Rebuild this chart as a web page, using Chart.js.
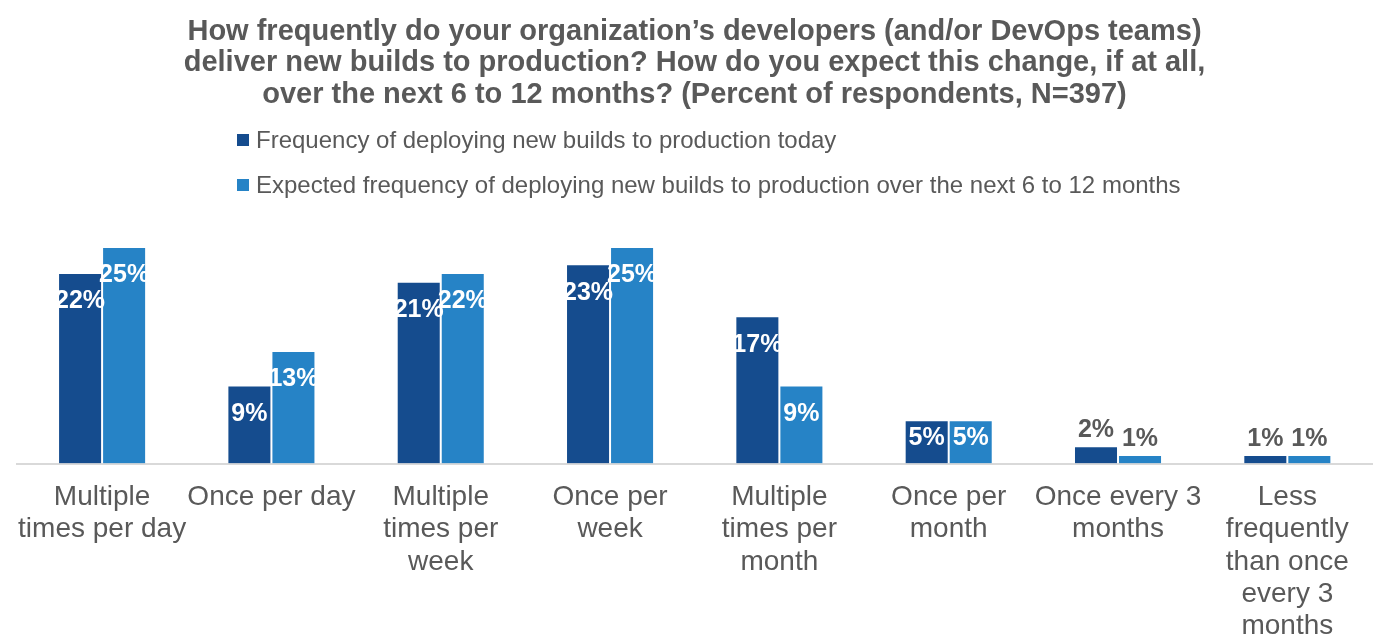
<!DOCTYPE html>
<html>
<head>
<meta charset="utf-8">
<script src="https://cdn.jsdelivr.net/npm/chart.js@4.4.0/dist/chart.umd.min.js"></script>
<style>
  html, body { margin: 0; padding: 0; background: #ffffff; }
  #wrap { width: 1377px; height: 642px; position: relative; }
</style>
</head>
<body>
<div id="wrap"><canvas id="c" width="1377" height="642"></canvas></div>
<script>
const titleLines = [
  "How frequently do your organization\u2019s developers (and/or DevOps teams)",
  "deliver new builds to production? How do you expect this change, if at all,",
  "over the next 6 to 12 months? (Percent of respondents, N=397)"
];
const categories = [
  ["Multiple", "times per day"],
  ["Once per day"],
  ["Multiple", "times per", "week"],
  ["Once per", "week"],
  ["Multiple", "times per", "month"],
  ["Once per", "month"],
  ["Once every 3", "months"],
  ["Less", "frequently", "than once", "every 3", "months"]
];
const seriesNames = [
  "Frequency of deploying new builds to production today",
  "Expected frequency of deploying new builds to production over the next 6 to 12 months"
];
const todayValues = [22, 9, 21, 23, 17, 5, 2, 1];
const expectedValues = [25, 13, 22, 25, 9, 5, 1, 1];
const colors = ["#154C8E", "#2683C6"];

const FONT = "'Liberation Sans', Arial, sans-serif";
const GRAY = "#595959";

const legendPlugin = {
  id: 'customLegend',
  afterDraw(chart) {
    const ctx = chart.ctx;
    ctx.save();
    ctx.font = "24px " + FONT;
    ctx.textBaseline = 'middle';
    ctx.textAlign = 'left';
    const ys = [140, 185];
    chart.data.datasets.forEach((ds, i) => {
      ctx.fillStyle = ds.backgroundColor;
      ctx.fillRect(237, ys[i] - 6, 12, 12);
      ctx.fillStyle = GRAY;
      ctx.fillText(ds.label, 256, ys[i] + 1);
    });
    ctx.restore();
  }
};

const labelPlugin = {
  id: 'barLabels',
  afterDatasetsDraw(chart) {
    const ctx = chart.ctx;
    ctx.save();
    ctx.font = "bold 25px " + FONT;
    ctx.textAlign = 'center';
    ctx.textBaseline = 'middle';
    chart.data.datasets.forEach((ds, di) => {
      const meta = chart.getDatasetMeta(di);
      meta.data.forEach((bar, i) => {
        const v = ds.data[i];
        const h = bar.base - bar.y;
        let y, col;
        if (h >= 60) { y = bar.y + 28.5; col = '#ffffff'; }
        else if (h >= 30) { y = bar.y + 17.5; col = '#ffffff'; }
        else { y = bar.y - 16; col = GRAY; }
        ctx.fillStyle = col;
        ctx.fillText(v + '%', bar.x, y);
      });
    });
    ctx.restore();
  }
};

new Chart(document.getElementById('c'), {
  type: 'bar',
  data: {
    labels: categories,
    datasets: [
      { label: seriesNames[0], data: todayValues, backgroundColor: colors[0], borderColor: 'rgba(255,255,255,0.35)', borderWidth: 1 },
      { label: seriesNames[1], data: expectedValues, backgroundColor: colors[1], borderColor: 'rgba(255,255,255,0.35)', borderWidth: 1 }
    ]
  },
  options: {
    responsive: false,
    animation: false,
    layout: { padding: { left: 17, right: 5, top: 0, bottom: -18 } },
    datasets: { bar: { categoryPercentage: 0.52, barPercentage: 1.0 } },
    plugins: {
      legend: { display: false },
      tooltip: { enabled: false },
      title: {
        display: true,
        text: titleLines,
        color: GRAY,
        font: { family: FONT, size: 29, weight: 'bold', lineHeight: 1.086 },
        padding: { top: 16, bottom: 136.5 }
      }
    },
    scales: {
      x: {
        grid: { display: false, drawTicks: false },
        border: { display: true, color: '#D9D9D9', width: 2 },
        ticks: {
          color: GRAY,
          font: { family: FONT, size: 28, lineHeight: 1.16 },
          padding: 17,
          maxRotation: 0,
          autoSkip: false
        }
      },
      y: {
        display: false,
        min: 0,
        max: 25
      }
    }
  },
  plugins: [legendPlugin, labelPlugin]
});
</script>
</body>
</html>
